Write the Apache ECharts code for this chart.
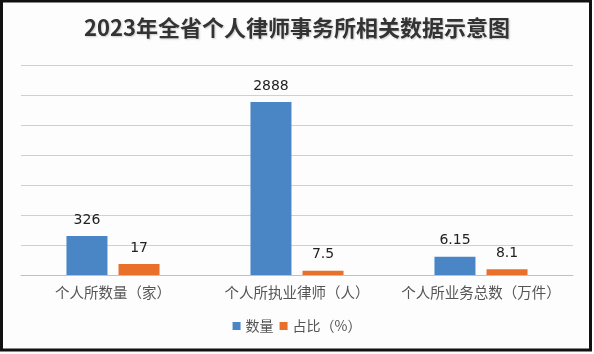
<!DOCTYPE html>
<html>
<head>
<meta charset="utf-8">
<script src="https://cdn.jsdelivr.net/npm/echarts@6/dist/echarts.min.js"></script>
<style>
  html, body { margin: 0; padding: 0; background: #fff; }
  #main { width: 594px; height: 354px; }
</style>
</head>
<body>
<div id="main"></div>
<script>
// 分类
var categories = ['个人所数量（家）', '个人所执业律师（人）', '个人所业务总数（万件）'];
// 标签上显示的值
var countLabels = ['326', '2888', '6.15'];
var shareLabels = ['17', '7.5', '8.1'];
// 柱子高度（原图无刻度，按网格格数读取）
var countHeights = [1.3, 5.77, 0.61];
var shareHeights = [0.37, 0.14, 0.19];
var seriesNames = ['数量', '占比（%）'];

var myChart = echarts.init(document.getElementById('main'));

function makeSeries (name, heights, labels, color) {
	return {
		name: name,
		type: 'bar',
		data: heights,
		barWidth: 41,
		barGap: '27%',
		itemStyle: { color: color },
		label: {
			show: true,
			position: 'top',
			distance: 9,
			color: '#222',
			fontSize: 14,
			fontFamily: 'DejaVu Sans',
			formatter: function (p) {
				return labels[p.dataIndex];
			}
		}
	};
}

var option = {
	backgroundColor: '#fdfdfd',
	animation: false,
	title: {
		text: '2023年全省个人律师事务所相关数据示意图',
		left: 'center',
		top: 12,
		textStyle: {
			fontFamily: 'Noto Sans CJK SC',
			fontSize: 22,
			fontWeight: 'bold',
			color: '#333',
			textShadowColor: 'rgba(0,0,0,0.2)',
			textShadowBlur: 2,
			textShadowOffsetX: 1,
			textShadowOffsetY: 1
		}
	},
	legend: {
		data: seriesNames,
		bottom: 16,
		left: 'center',
		itemWidth: 8,
		itemHeight: 8,
		itemGap: 6,
		icon: 'rect',
		textStyle: {
			fontFamily: 'Noto Sans CJK SC',
			fontSize: 14,
			color: '#555'
		}
	},
	grid: {
		left: 21,
		right: 21,
		top: 65,
		bottom: 79,
		containLabel: false
	},
	xAxis: {
		type: 'category',
		data: categories,
		axisTick: { show: false },
		axisLine: { lineStyle: { color: '#b9c2cc', width: 1 } },
		axisLabel: {
			interval: 0,
			margin: 10,
			fontFamily: 'Noto Sans CJK SC',
			fontSize: 14.5,
			color: '#555'
		}
	},
	yAxis: {
		type: 'value',
		min: 0,
		max: 7,
		interval: 1,
		axisLabel: { show: false },
		axisLine: { show: false },
		axisTick: { show: false },
		splitLine: { lineStyle: { color: '#c9d1da', width: 1 } }
	},
	series: [
		makeSeries(seriesNames[0], countHeights, countLabels, '#4a86c6'),
		makeSeries(seriesNames[1], shareHeights, shareLabels, '#e8702a')
	],
	graphic: [{
		type: 'rect',
		shape: { x: 1.5, y: 1, width: 589, height: 349 },
		style: { fill: 'none', stroke: '#111', lineWidth: 3 },
		z: 100
	}]
};

myChart.setOption(option);
</script>
</body>
</html>
